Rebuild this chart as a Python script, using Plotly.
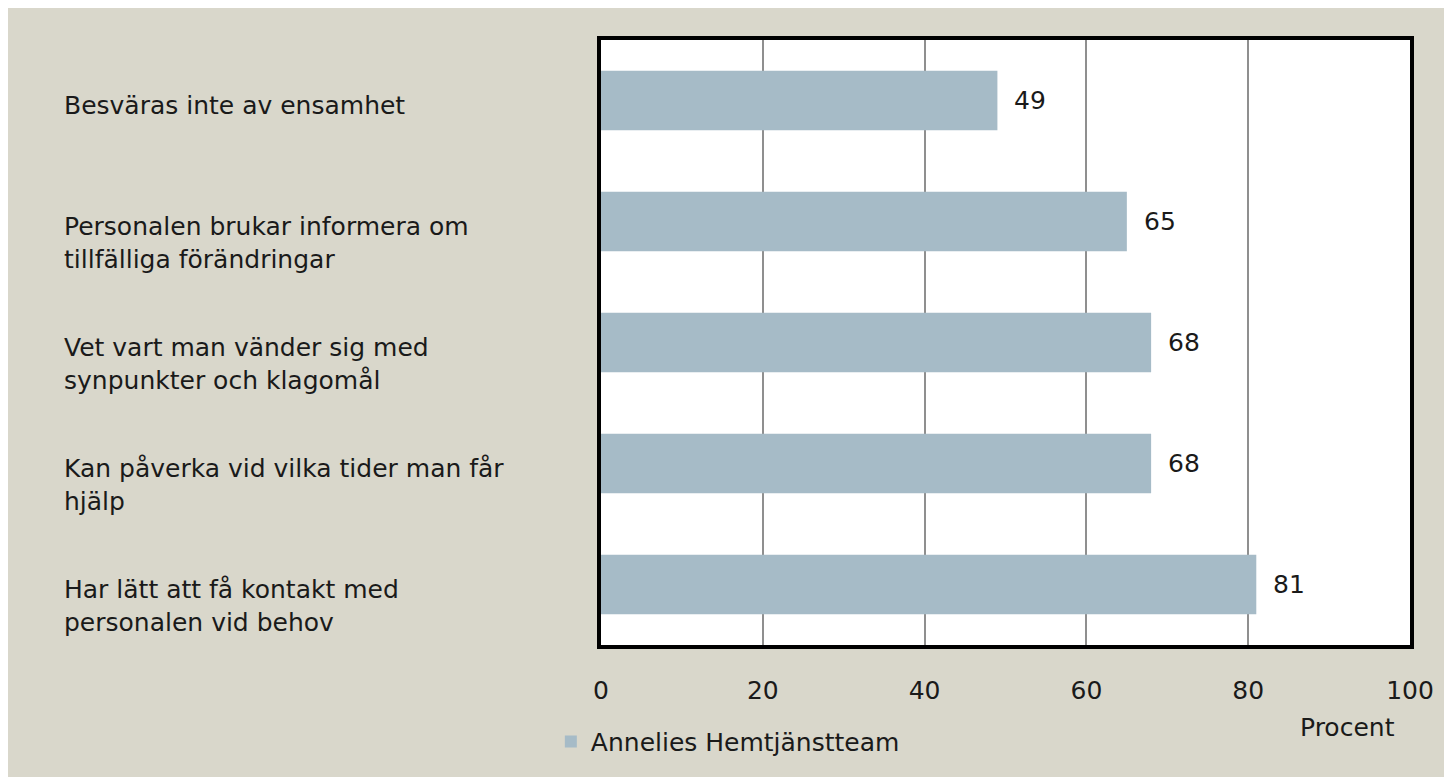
import plotly.graph_objects as go

categories = [
    "Besväras inte av ensamhet",
    "Personalen brukar informera om<br>tillfälliga förändringar",
    "Vet vart man vänder sig med<br>synpunkter och klagomål",
    "Kan påverka vid vilka tider man får<br>hjälp",
    "Har lätt att få kontakt med<br>personalen vid behov",
]
values = [49, 65, 68, 68, 81]
series_name = "Annelies Hemtjänstteam"
tick_values = [0, 20, 40, 60, 80, 100]
tick_labels = ["0", "20", "40", "60", "80", "100"]
axis_unit = "Procent"

BEIGE = "#D9D7CB"
BAR = "#A6BBC7"
TXT = "#1a1a1a"
FONT = "DejaVu Sans"
FS = 25

fig = go.Figure()
fig.add_trace(go.Bar(
    x=values, y=list(range(len(categories))), orientation="h",
    name=series_name, marker=dict(color=BAR, line=dict(width=0)),
    showlegend=True, hoverinfo="x",
))

annotations = []
for i, (c, v) in enumerate(zip(categories, values)):
    annotations.append(dict(
        x=-0.6663, xref="paper", y=i, yref="y", text=c, showarrow=False,
        xanchor="left", yanchor="top", align="left", yshift=12,
        font=dict(family=FONT, size=FS, color=TXT),
    ))
    annotations.append(dict(
        x=v, xref="x", y=i, yref="y", text=str(v), showarrow=False,
        xanchor="left", yanchor="middle", xshift=15,
        font=dict(family=FONT, size=FS, color=TXT),
    ))
annotations.append(dict(
    x=0.923, xref="paper", y=-0.137, yref="paper", text=axis_unit,
    showarrow=False, xanchor="center", yanchor="middle",
    font=dict(family=FONT, size=FS, color=TXT),
))

fig.update_layout(
    width=1444, height=769,
    margin=dict(l=593, r=42, t=32, b=129, pad=0),
    paper_bgcolor=BEIGE, plot_bgcolor="white",
    bargap=0.51,
    font=dict(family=FONT, size=FS, color=TXT),
    xaxis=dict(
        range=[0, 100], tickvals=tick_values, ticktext=tick_labels,
        showgrid=True, gridcolor="#8f8f8f", gridwidth=1.5,
        showline=True, mirror=True, linecolor="black", linewidth=4,
        ticks="", ticklabelstandoff=20, zeroline=False,
        tickfont=dict(family=FONT, size=FS, color=TXT),
    ),
    yaxis=dict(
        range=[len(categories) - 0.5, -0.5], showticklabels=False,
        showgrid=False, zeroline=False,
        showline=True, mirror=True, linecolor="black", linewidth=4,
    ),
    legend=dict(
        x=-0.062, xanchor="left", y=-0.16, yanchor="middle",
        bgcolor="rgba(0,0,0,0)", font=dict(family=FONT, size=FS, color=TXT),
        itemwidth=30,
    ),
    annotations=annotations,
)

fig.write_html("out.html", post_script="document.body.style.overflow='hidden';")
